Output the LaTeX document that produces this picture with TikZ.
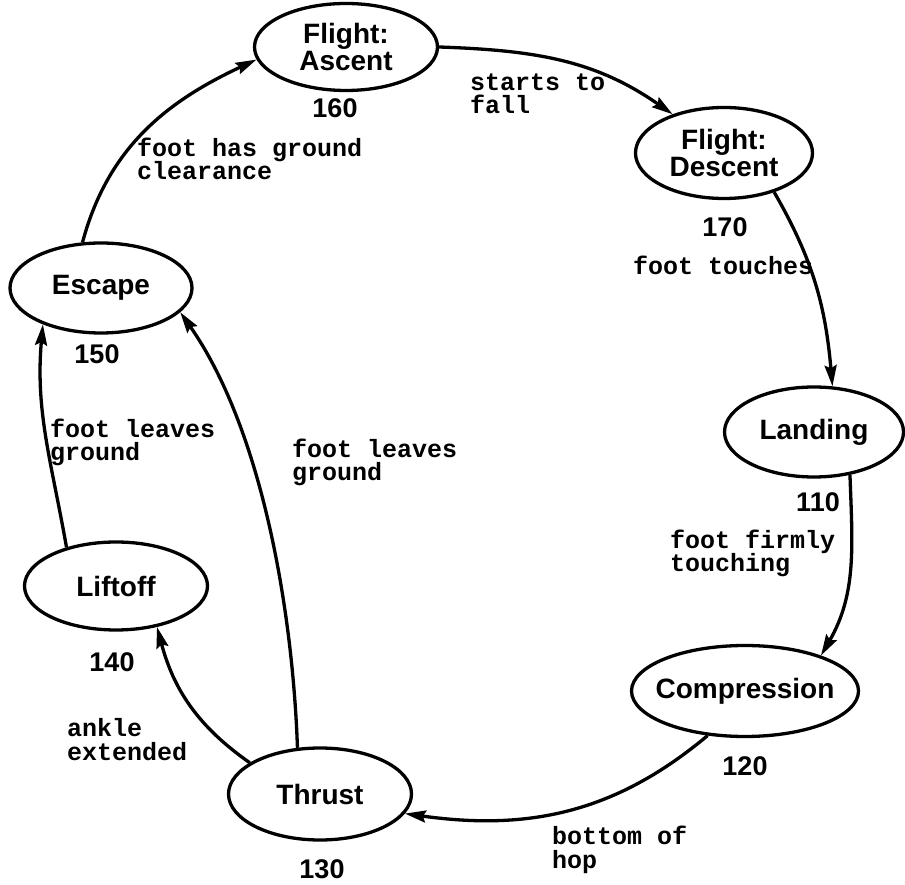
\documentclass[tikz,border=0pt]{standalone}
\usepackage{fontspec}
\setmainfont{Liberation Sans}
\setmonofont{Liberation Mono}
\usetikzlibrary{shapes.geometric,arrows.meta}
\begin{document}
\begin{tikzpicture}[x=1pt,y=1pt,
  state/.style={ellipse,draw,line width=3.3pt,inner sep=0pt},
  stxt/.style={font=\fontsize{28}{25}\selectfont\bfseries,align=center,inner sep=0pt},
  num/.style={font=\fontsize{27}{27}\selectfont\bfseries,anchor=base,inner sep=0pt},
  lbl/.style={font=\fontsize{25}{23.5}\selectfont\ttfamily\bfseries,align=left,anchor=base west,inner sep=0pt},
  arr/.style={line width=3.3pt,-{Stealth[length=21pt,width=12pt,inset=3pt]}}]
\useasboundingbox (0,0) rectangle (905,884);
% states
\node[state,minimum width=183pt,minimum height=87pt] (asc) at (346,837) {};
\node[state,minimum width=177pt,minimum height=91pt] (desc) at (724,731) {};
\node[state,minimum width=182pt,minimum height=90pt] (esc) at (101,596) {};
\node[state,minimum width=179pt,minimum height=90pt] (land) at (814,452) {};
\node[state,minimum width=227pt,minimum height=91pt] (comp) at (745,193) {};
\node[state,minimum width=183pt,minimum height=92pt] (thrust) at (320,90) {};
\node[state,minimum width=183pt,minimum height=88pt] (lift) at (116,298) {};
% state names
\node[stxt] (ascT) at (asc) {Flight:\\Ascent};
\node[stxt] (descT) at (desc) {Flight:\\Descent};
\node[stxt] (escT) at (esc) {Escape};
\node[stxt] (landT) at (land) {Landing};
\node[stxt] (compT) at (comp) {Compression};
\node[stxt] (thrustT) at (thrust) {Thrust};
\node[stxt] (liftT) at (lift) {Liftoff};
% numbers
\node[num] (n160) at (335,766) {160};
\node[num] (n170) at (725,647) {170};
\node[num] (n150) at (97,520) {150};
\node[num] (n110) at (818,372) {110};
\node[num] (n120) at (745,109) {120};
\node[num] (n130) at (322,6) {130};
\node[num] (n140) at (112,212) {140};
% transition labels (base = last line)
\node[lbl] (l1) at (470,770) {starts to\\fall};
\node[lbl] (l2) at (633,609) {foot touches};
\node[lbl] (l3) at (670,312) {foot firmly\\touching};
\node[lbl] (l4) at (552,16) {bottom of\\hop};
\node[lbl] (l5) at (67,124) {ankle\\extended};
\node[lbl] (l6) at (292,403) {foot leaves\\ground};
\node[lbl] (l7) at (50,423) {foot leaves\\ground};
\node[lbl] (l8) at (137,704) {foot has ground\\clearance};
% transitions
\draw[arr] (asc.0) to[out=-2,in=145] (desc.143);
\draw[arr] (desc.-38) to[out=-60,in=95] (land.68);
\draw[arr] (land.-50) to[out=-88,in=60] (comp.25);
\draw[arr] (comp.-130) to[out=-140,in=-8] (thrust.-13);
\draw[arr] (thrust.156) to[out=145,in=-75] (lift.-45);
\draw[arr] (thrust.116) to[out=92,in=-55,looseness=0.8] (esc.-17);
\draw[arr] (lift.142) to[out=100,in=-95] (esc.-148);
\draw[arr] (esc.112) to[out=75,in=-155] (asc.188);
\end{tikzpicture}
\end{document}
